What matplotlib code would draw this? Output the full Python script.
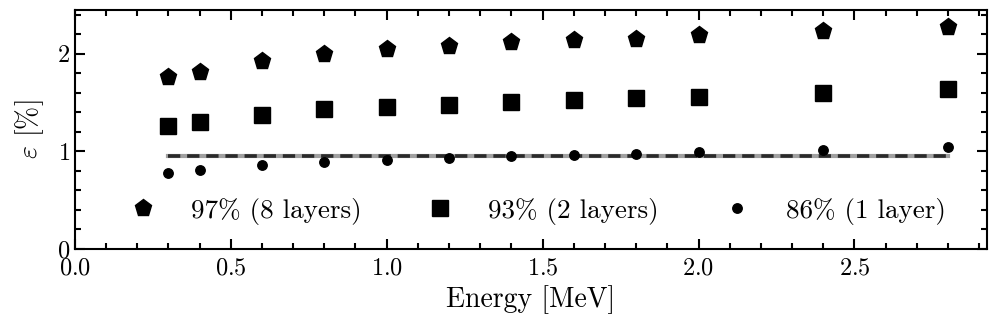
import matplotlib
matplotlib.use("Agg")
import matplotlib.pyplot as plt
from matplotlib.ticker import MultipleLocator

plt.rcParams.update({
    "font.family": "serif",
    "font.serif": ["cmr10"],
    "mathtext.fontset": "cm",
    "axes.formatter.use_mathtext": True,
    "axes.linewidth": 1.5,
})

energy = [0.3, 0.4, 0.6, 0.8, 1.0, 1.2, 1.4, 1.6, 1.8, 2.0, 2.4, 2.8]
eps_8_layers = [1.76, 1.81, 1.93, 2.00, 2.05, 2.08, 2.12, 2.14, 2.15, 2.19, 2.23, 2.28]
eps_2_layers = [1.26, 1.30, 1.37, 1.43, 1.46, 1.48, 1.51, 1.53, 1.55, 1.56, 1.60, 1.64]
eps_1_layer = [0.78, 0.81, 0.86, 0.89, 0.91, 0.935, 0.95, 0.96, 0.97, 0.99, 1.01, 1.045]
ref_level = 0.955
labels = ["97% (8 layers)", "93% (2 layers)", "86% (1 layer)"]

fig, ax = plt.subplots(figsize=(9.97, 3.32), dpi=100)

ax.plot(energy, eps_8_layers, "p", color="black", ms=12.5, label=labels[0], zorder=3)
ax.plot(energy, eps_2_layers, "s", color="black", ms=11.5, label=labels[1], zorder=3)
ax.plot(energy, eps_1_layer, "o", color="black", ms=6.8, label=labels[2], zorder=3)

# reference line: grey band with dark dashes on top
ax.plot([energy[0], energy[-1]], [ref_level, ref_level], "-", color="#a0a0a0", lw=3.0, zorder=1)
ax.plot([energy[0], energy[-1]], [ref_level, ref_level], "--", color="#2a2a2a", lw=2.6,
        dashes=(3.4, 1.9), zorder=2)

ax.set_xlim(0, 2.925)
ax.set_ylim(0, 2.45)
ax.xaxis.set_major_locator(MultipleLocator(0.5))
ax.xaxis.set_minor_locator(MultipleLocator(0.1))
ax.yaxis.set_major_locator(MultipleLocator(1))
ax.yaxis.set_minor_locator(MultipleLocator(0.2))
ax.tick_params(which="both", direction="in", top=True, right=True, width=1.5, labelsize=17.5)
ax.tick_params(which="major", length=7)
ax.tick_params(which="minor", length=4)
ax.tick_params(axis="x", pad=6)

ax.set_xlabel("Energy [MeV]", fontsize=20, labelpad=4)
ax.set_ylabel(r"$\varepsilon$ [%]", fontsize=20, labelpad=8)

ax.legend(loc="lower center", bbox_to_anchor=(0.507, 0.057), ncol=3, frameon=False,
          fontsize=19.5, handletextpad=1.28, columnspacing=2.4, handlelength=1.0,
          borderaxespad=0)

fig.subplots_adjust(left=0.075, right=0.99, top=0.97, bottom=0.25)
fig.savefig("out.png", dpi=100)
